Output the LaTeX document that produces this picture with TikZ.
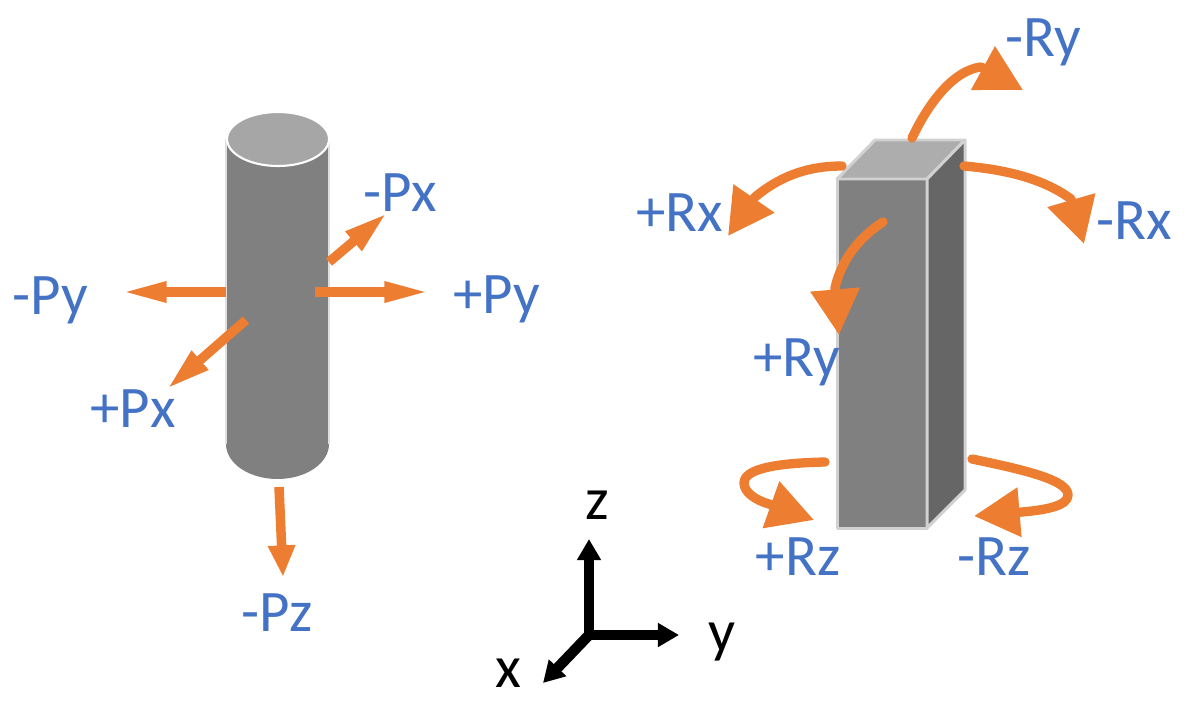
\documentclass[tikz,border=0pt]{standalone}
\usepackage{xcolor}
\usepackage{fontspec}
\setmainfont{Carlito}
\usetikzlibrary{
  arrows.meta
}
\definecolor{pushorange}{HTML}{ED7D31}
\definecolor{labelblue}{HTML}{4472C4}
\tikzset{
  forcearrow/.style={pushorange,line width=5.4pt},
  momentarrow/.style={pushorange,line width=5.3pt,line cap=round,line join=round,-{Triangle[length=26pt,width=27pt]}},
  axisarrow/.style={black,line width=6pt,line cap=round,-{Triangle[length=12pt,width=13pt]}},
  loadlabel/.style={text=labelblue,font=\fontsize{33.5}{34}\selectfont,inner sep=0pt},
  axislabel/.style={text=black,font=\fontsize{34}{34}\selectfont,inner sep=0pt},
  boxface/.style={draw=black!18,line width=1.7pt,line join=round}
}

\begin{document}
\begin{tikzpicture}[x=0.02cm,y=-0.02cm]
    \useasboundingbox (0,0) rectangle (1196,700);

    % Cylinder
    \fill[black!50] (226,139) -- (226,444) arc[start angle=180,end angle=0,x radius=51.5,y radius=35] -- (329,139) -- cycle;
    \draw[black!12,line width=0.8pt] (226,444) -- (226,139) (329,139) -- (329,444);
    \draw[white,line width=1.2pt,fill=black!35] (278,139) ellipse[x radius=51,y radius=27];

    % Box
    \draw[boxface,fill=black!50] (837,179) rectangle (927,528);
    \draw[boxface,fill=black!32] (837,179) -- (875,140) -- (965,140) -- (927,179) -- cycle;
    \draw[boxface,fill=black!60] (927,179) -- (965,140) -- (965,490) -- (927,528) -- cycle;

    % End points of the arrows
    \foreach \x/\y/\id in {226/292/myS,120/292/myE,315/292/pyS,431/292/pyE,329/262/mxS,387/213/mxE,
        246/320/pxS,167/389/pxE,279/487/mzS,283/577/mzE,
        912/138/ryS,981/67/ryB,1023/90/ryE,842/166/rxS,755/197/rxB,728/236/rxE,
        964/166/nxS,1071/199/nxB,1084/244/nxE,883/222/qyS,835/288/qyB,839/335/qyE,
        825/462/rzS,744/483/rzM,769/504/rzB,814/520/rzE,
        972/459/nzS,1068/495/nzM,1022/512/nzB,974/516/nzE,
        589/635/o,589/539/zE,679/635/yE,543/683/xE}
        \coordinate (\id) at (\x,\y);

    % Translations
    \foreach \a/\b/\l/\w in {myS/myE/26.5pt/10.6pt,pyS/pyE/26.5pt/10.6pt,mxS/mxE/25pt/13pt,pxS/pxE/25pt/13pt,mzS/mzE/18pt/14.5pt}
        \draw[forcearrow,-{Triangle[length=\l,width=\w]}] (\a) -- (\b);

    % Rotations
    \draw[momentarrow] (ryS) .. controls (930,100) and (955,70) .. (ryB) -- (ryE);
    \draw[momentarrow] (rxS) .. controls (805,166) and (778,178) .. (rxB) -- (rxE);
    \draw[momentarrow] (nxS) .. controls (1010,170) and (1045,180) .. (nxB) -- (nxE);
    \draw[momentarrow] (qyS) .. controls (855,240) and (840,265) .. (qyB) -- (qyE);
    \draw[momentarrow] (rzS) .. controls (780,463) and (744,468) .. (rzM) .. controls (744,492) and (755,500) .. (rzB) -- (rzE);
    \draw[momentarrow] (nzS) .. controls (1025,470) and (1068,480) .. (nzM) .. controls (1068,506) and (1045,510) .. (nzB) -- (nzE);

    % Axes
    \foreach \b in {zE,yE,xE}
        \draw[axisarrow] (o) -- (\b);

    % Labels
    \foreach \x/\y/\name/\id in {50/300/-Py/my,497/299/+Py/py,400/193/-Px/mx,133/409/+Px/px,277/613/-Pz/mz,
        680/213/+Rx/rx,1134/221/-Rx/nx,1043/42/-Ry/ry,797/362/+Ry/qy,798/557/+Rz/rz,994/557/-Rz/nz}
        \node[loadlabel] (l\id) at (\x,\y) {\name};
    \foreach \x/\y/\name/\id in {597/505/z/z,722/642/y/y,508/673/x/x}
        \node[axislabel] (a\id) at (\x,\y) {\name};
\end{tikzpicture}
\end{document}
